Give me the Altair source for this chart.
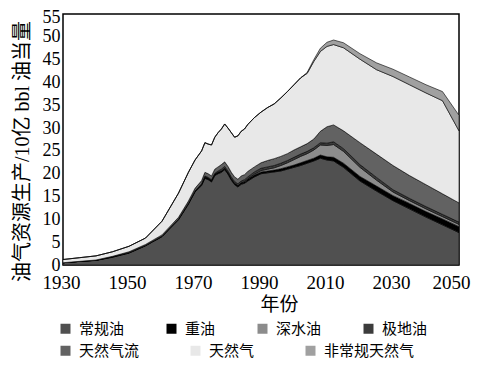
import altair as alt
import pandas as pd

years = [1930, 1935, 1940, 1945, 1950, 1955, 1960, 1965, 1968, 1970,
         1972, 1973, 1974, 1975, 1976, 1977, 1978, 1979, 1980, 1981,
         1982, 1983, 1984, 1985, 1986, 1988, 1990, 1992, 1994, 1996,
         1998, 2000, 2002, 2004, 2006, 2008, 2010, 2012, 2015, 2020,
         2025, 2030, 2035, 2040, 2045, 2050]

conventional_oil = [0.5, 0.8, 1.0, 1.7, 2.6, 4.2, 6.2, 9.9, 13.3, 16.0,
                    17.4, 19.0, 18.7, 18.2, 19.6, 20.0, 20.3, 20.9, 19.9, 18.6,
                    17.6, 17.1, 17.7, 17.9, 18.4, 19.3, 20.0, 20.2, 20.4, 20.6,
                    21.0, 21.4, 21.8, 22.3, 22.8, 23.4, 23.0, 22.8, 21.4, 18.4,
                    16.2, 14.1, 12.3, 10.5, 8.8, 7.1]
heavy_oil = [0.0, 0.0, 0.05, 0.1, 0.1, 0.1, 0.1, 0.15, 0.2, 0.2,
             0.3, 0.3, 0.3, 0.3, 0.3, 0.3, 0.3, 0.3, 0.3, 0.3,
             0.3, 0.3, 0.3, 0.3, 0.4, 0.4, 0.4, 0.4, 0.4, 0.5,
             0.5, 0.5, 0.6, 0.6, 0.6, 0.7, 0.7, 0.8, 0.9, 1.0,
             1.1, 1.1, 1.2, 1.2, 1.3, 1.3]
deepwater_oil = [0, 0, 0, 0, 0, 0, 0, 0, 0, 0,
                 0, 0, 0, 0, 0, 0, 0, 0, 0, 0,
                 0, 0, 0, 0.1, 0.1, 0.2, 0.3, 0.4, 0.5, 0.7,
                 0.9, 1.2, 1.4, 1.5, 1.8, 2.2, 2.5, 2.8, 2.6, 2.0,
                 1.3, 0.8, 0.6, 0.6, 0.5, 0.5]
polar_oil = [0, 0, 0, 0, 0, 0, 0, 0, 0, 0,
             0.1, 0.2, 0.2, 0.2, 0.2, 0.3, 0.4, 0.4, 0.4, 0.4,
             0.4, 0.4, 0.4, 0.4, 0.4, 0.5, 0.5, 0.5, 0.5, 0.5,
             0.5, 0.5, 0.5, 0.5, 0.5, 0.5, 0.5, 0.6, 0.6, 0.6,
             0.6, 0.5, 0.5, 0.5, 0.5, 0.5]
ngl = [0.0, 0.0, 0.05, 0.1, 0.2, 0.2, 0.3, 0.4, 0.5, 0.6,
       0.7, 0.8, 0.8, 0.8, 0.9, 0.9, 1.0, 1.0, 1.0, 1.0,
       1.0, 1.0, 1.1, 1.1, 1.2, 1.1, 1.2, 1.4, 1.5, 1.5,
       1.5, 1.6, 1.6, 1.7, 1.9, 2.5, 3.6, 3.7, 3.9, 4.8,
       5.1, 5.3, 5.0, 4.8, 4.5, 4.2]
natural_gas = [0.7, 0.8, 0.9, 1.0, 1.2, 1.4, 3.0, 5.3, 6.3, 6.2,
               6.5, 6.5, 6.5, 6.8, 7.0, 7.5, 7.8, 8.3, 8.4, 8.7,
               8.7, 9.5, 9.8, 10.0, 10.3, 10.8, 11.1, 11.6, 12.0, 12.8,
               13.6, 14.3, 15.1, 15.4, 17.0, 17.5, 17.6, 17.6, 18.2, 18.3,
               18.5, 19.5, 19.9, 20.1, 20.4, 15.8]
nonconv_gas = [0, 0, 0, 0, 0, 0, 0, 0, 0, 0,
               0, 0, 0, 0, 0, 0, 0, 0, 0, 0,
               0, 0, 0, 0, 0, 0, 0, 0, 0, 0,
               0, 0, 0, 0.2, 0.4, 0.7, 0.9, 1.0, 1.1, 1.2,
               1.5, 1.6, 1.7, 1.8, 2.0, 3.4]

oil_names = ["常规油", "重油", "深水油", "极地油"]
gas_names = ["天然气流", "天然气", "非常规天然气"]
oil_colors = ["#505050", "#000000", "#8c8c8c", "#3c3c3c"]
gas_colors = ["#626262", "#e8e8e8", "#a0a0a0"]

x_ticks = [1930, 1950, 1970, 1990, 2010, 2030, 2050]
y_ticks = [0, 5, 10, 15, 20, 25, 30, 35, 40, 45, 50, 55]

series = [conventional_oil, heavy_oil, deepwater_oil, polar_oil, ngl, natural_gas, nonconv_gas]
names = oil_names + gas_names
for s in series:
    assert len(s) == len(years)

rows = []
for order, (name, vals) in enumerate(zip(names, series)):
    grp = "oil" if name in oil_names else "gas"
    for yr, v in zip(years, vals):
        rows.append({"year": yr, "series": name, "value": v, "order": order, "grp": grp})
df = pd.DataFrame(rows)

CJK = "Noto Sans CJK SC"
SERIF = "Liberation Serif"

base = alt.Chart(df).transform_stack(
    stack="value", groupby=["year"], as_=["v0", "v1"],
    sort=[alt.SortField("order", order="ascending")]
)

x_enc = alt.X(
    "year:Q",
    scale=alt.Scale(domain=[1930, 2050], nice=False, zero=False),
    axis=alt.Axis(values=x_ticks, format="d", labelFont=SERIF, labelFontSize=19,
                  labelColor="black", ticks=False, tickSize=0, domain=False, grid=False,
                  labelPadding=8, labelFlush=False, labelOverlap=False,
                  labelOffset={"condition": {"test": "datum.value == 2050", "value": -8},
                               "value": -2},
                  titleFont=CJK, titleFontSize=19, titleFontWeight="normal",
                  titleColor="black", titleX=216, titleY=39,
                  titleBaseline="middle", titleAlign="center"),
    title="年份",
)
y_enc = alt.Y(
    "v1:Q",
    scale=alt.Scale(domain=[0, 55], nice=False),
    axis=alt.Axis(values=y_ticks, labelFont=SERIF, labelFontSize=18, labelColor="black",
                  ticks=False, tickSize=0, domain=False, grid=False, labelPadding=3,
                  labelOverlap=False, labelFlush=False,
                  labelOffset={"condition": {"test": "datum.value == 55", "value": 3},
                               "value": 0},
                  titleFont=SERIF + ", " + CJK, titleFontSize=20, titleFontWeight="normal",
                  titleColor="black", titleX=-41, titleY=137,
                  titleBaseline="middle", titleAlign="center"),
    title="油气资源生产/10亿 bbl 油当量",
)

def legend(ly, cp):
    return alt.Legend(title=None, orient="none", legendX=-5, legendY=ly,
                      direction="horizontal", symbolType="square", symbolSize=100,
                      symbolStrokeWidth=0, labelFont=CJK, labelFontSize=15,
                      labelColor="black", labelOffset=6, columnPadding=cp, padding=0)

oil_layer = base.transform_filter("datum.grp == 'oil'").mark_area(
    stroke="black", strokeWidth=0.6, interpolate="linear"
).encode(
    x=x_enc, y=y_enc, y2="v0:Q",
    color=alt.Color("series:N", scale=alt.Scale(domain=oil_names, range=oil_colors),
                    legend=legend(307, 39)),
)

gas_layer = base.transform_filter("datum.grp == 'gas'").mark_area(
    stroke="black", strokeWidth=0.6, interpolate="linear"
).encode(
    x=x_enc, y=y_enc, y2="v0:Q",
    color=alt.Color("series:N", scale=alt.Scale(domain=gas_names, range=gas_colors),
                    legend=legend(329, 48)),
)

chart = alt.layer(oil_layer, gas_layer).resolve_scale(color="independent").resolve_legend(
    color="independent"
).properties(
    width=396, height=251,
    autosize=alt.AutoSizeParams(type="none"),
    padding={"left": 55, "top": 6, "right": 12, "bottom": 96},
).configure_view(stroke="black", strokeWidth=1.5)

chart.save("out.html", embed_options={"renderer": "svg", "actions": False})
